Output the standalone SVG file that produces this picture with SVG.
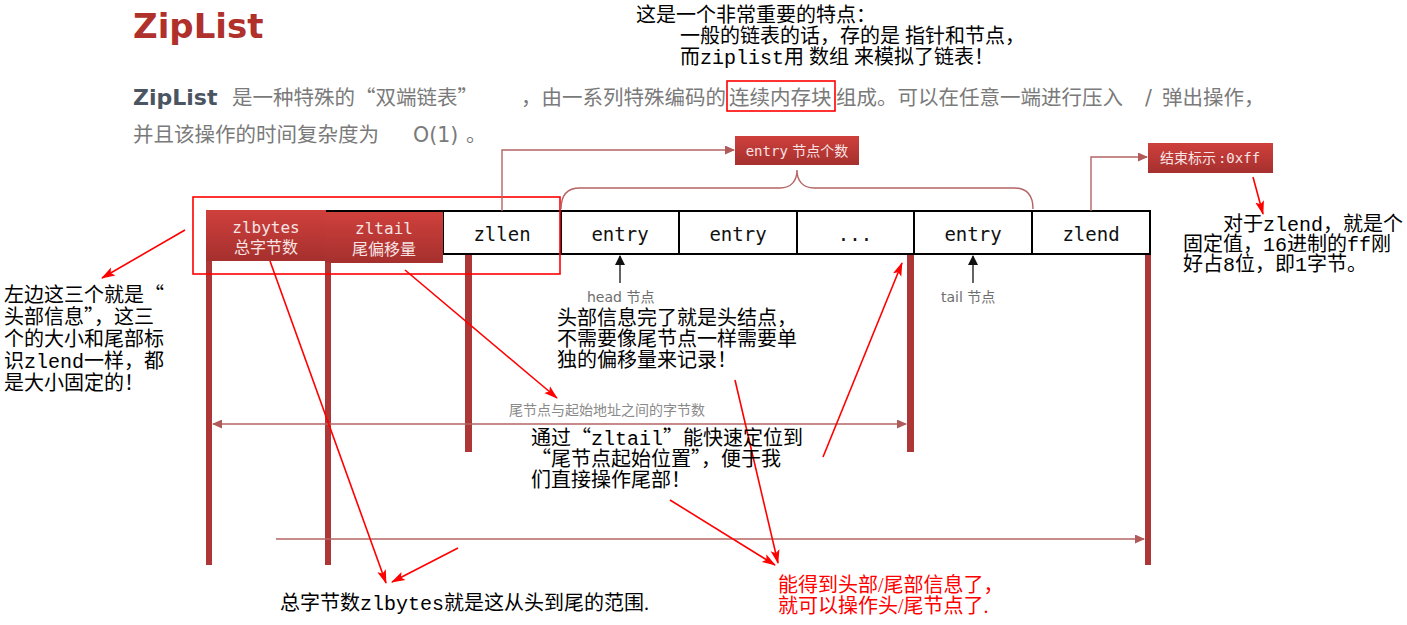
<svg xmlns="http://www.w3.org/2000/svg" width="1407" height="625" viewBox="0 0 1407 625">
<style>
.sans{font-family:"DejaVu Sans","Noto Sans CJK SC",sans-serif}
.note{font-family:"Liberation Serif","Noto Sans CJK SC",serif;font-size:20px;fill:#000}
.cj{font-family:"Noto Sans CJK SC",sans-serif}
.lm{font-family:"Liberation Mono","Noto Sans CJK SC",monospace}
.gray{fill:#7a7a7a;font-size:20.5px}
.mono{font-family:"DejaVu Sans Mono","Noto Sans CJK SC",monospace}
.cell{fill:#fff;stroke:#000;stroke-width:2}
.ctext{font-size:19px;fill:#111;text-anchor:middle}
.rbox{fill:url(#rg)}
.rtext{fill:#f6e4e4;text-anchor:middle}
.bar{fill:#ad3636}
.conn{fill:none;stroke:#b46464;stroke-width:1.4}
.red{fill:none;stroke:#f00;stroke-width:1.6}
.small{font-size:14px;fill:#6e6e6e}
</style>
<defs>
<linearGradient id="rg" x1="0" y1="0" x2="0" y2="1">
<stop offset="0" stop-color="#cf403c"/>
<stop offset="1" stop-color="#a5302e"/>
</linearGradient>
<marker id="ra" markerWidth="14" markerHeight="10" refX="13" refY="5" orient="auto" markerUnits="userSpaceOnUse">
<path d="M0,0.5 L14,5 L0,9.5 L3,5 z" fill="#f00"/>
</marker>
<marker id="ca" markerWidth="10" markerHeight="9" refX="9" refY="4.5" orient="auto-start-reverse" markerUnits="userSpaceOnUse">
<path d="M0,0 L10,4.5 L0,9 z" fill="#b05a5a"/>
</marker>
<marker id="ba" markerWidth="10" markerHeight="10" refX="9" refY="5" orient="auto" markerUnits="userSpaceOnUse">
<path d="M0,0 L10,5 L0,10 z" fill="#111"/>
</marker>
</defs>
<rect width="1407" height="625" fill="#fff"/>

<g id="title">
<text x="133" y="38" class="sans" font-size="34" font-weight="bold" fill="#b0302c">ZipList</text>
</g>

<g id="intro" class="sans">
<text x="133" y="105" font-size="22" font-weight="bold" fill="#4b5561">ZipList</text>
<text x="232" y="105" class="gray">是一种特殊的<tspan class="cj">“</tspan>双端链表<tspan class="cj">”</tspan></text>
<text x="521" y="105" class="gray">，由一系列特殊编码的</text>
<text x="729" y="105" class="gray">连续内存块</text>
<text x="836" y="105" class="gray">组成。可以在任意一端进行压入</text>
<text x="1145" y="105" class="gray">/</text>
<text x="1162" y="105" class="gray">弹出操作，</text>
<text x="133" y="142" class="gray">并且该操作的时间复杂度为</text>
<text x="413" y="142" class="gray">O(1)</text>
<text x="466" y="142" class="gray">。</text>
<rect x="727" y="81" width="108" height="30" class="red"/>
</g>

<g id="note-top" class="note">
<text x="636" y="22">这是一个非常重要的特点：</text>
<text x="680" y="43">一般的链表的话，存的是 指针和节点，</text>
<text x="680" y="64">而<tspan class="lm">ziplist</tspan>用 数组 来模拟了链表！</text>
</g>

<g id="bars">
<rect x="206" y="258" width="6" height="307" class="bar"/>
<rect x="325" y="260" width="6" height="305" class="bar"/>
<rect x="465" y="254" width="7" height="198" class="bar"/>
<rect x="907" y="254" width="7" height="198" class="bar"/>
<rect x="1145" y="254" width="6" height="311" class="bar"/>
</g>

<g id="row-line">
<line x1="325" y1="211" x2="443" y2="211" stroke="#000" stroke-width="2"/>
</g>

<g id="zllen"><rect x="443" y="211" width="118" height="43" class="cell"/><text x="502" y="241" class="mono ctext">zllen</text></g>
<g id="entry1"><rect x="561" y="211" width="118" height="43" class="cell"/><text x="620" y="241" class="mono ctext">entry</text></g>
<g id="entry2"><rect x="679" y="211" width="118" height="43" class="cell"/><text x="738" y="241" class="mono ctext">entry</text></g>
<g id="dots"><rect x="797" y="211" width="117" height="43" class="cell"/><text x="855" y="241" class="mono ctext">...</text></g>
<g id="entry3"><rect x="914" y="211" width="118" height="43" class="cell"/><text x="973" y="241" class="mono ctext">entry</text></g>
<g id="zlend"><rect x="1032" y="211" width="118" height="43" class="cell"/><text x="1091" y="241" class="mono ctext">zlend</text></g>

<g id="zlbytes">
<rect x="206" y="210" width="120" height="51" class="rbox"/>
<text x="266" y="233" class="mono rtext" font-size="16">zlbytes</text>
<text x="266" y="253" class="sans rtext" font-size="16">总字节数</text>
</g>
<g id="zltail">
<rect x="325" y="212" width="118" height="51" class="rbox"/>
<text x="384" y="234" class="mono rtext" font-size="16">zltail</text>
<text x="384" y="255" class="sans rtext" font-size="16">尾偏移量</text>
</g>

<g id="entry-count">
<rect x="735" y="136" width="124" height="29" class="rbox"/>
<text x="797" y="156" class="rtext" font-size="14"><tspan class="mono">entry</tspan><tspan class="sans"> 节点个数</tspan></text>
</g>
<g id="end-mark">
<rect x="1148" y="143" width="125" height="30" class="rbox"/>
<text x="1210" y="163" class="rtext" font-size="14"><tspan class="sans">结束标示</tspan><tspan class="mono" dx="2">:0xff</tspan></text>
</g>

<g id="head-label">
<text x="587" y="302" class="sans small">head 节点</text>
</g>
<g id="tail-label">
<text x="941" y="302" class="sans small">tail 节点</text>
</g>
<g id="offset-label">
<text x="509" y="415" class="sans small" style="fill:#8a8a8a">尾节点与起始地址之间的字节数</text>
</g>

<g id="header-box">
<rect x="193" y="197" width="367" height="77" class="red"/>
</g>

<g id="connectors">
<path d="M502,211 V150 H734" class="conn" marker-end="url(#ca)"/>
<path d="M1091,211 V157 H1147" class="conn" marker-end="url(#ca)"/>
<path d="M561,209 C561,196 567,188 580,188 L780,188 C791,188 797,181 797,170 C797,181 803,188 814,188 L1014,188 C1027,188 1033,196 1033,209" class="conn"/>
<line x1="213" y1="424" x2="906" y2="424" class="conn" marker-start="url(#ca)" marker-end="url(#ca)"/>
<line x1="276" y1="539" x2="1144" y2="539" class="conn" marker-end="url(#ca)"/>
<line x1="620" y1="283" x2="620" y2="256" stroke="#111" stroke-width="1.3" marker-end="url(#ba)"/>
<line x1="973" y1="283" x2="973" y2="256" stroke="#111" stroke-width="1.3" marker-end="url(#ba)"/>
<line x1="185" y1="230" x2="102" y2="278" class="red" marker-end="url(#ra)"/>
<line x1="270" y1="261" x2="386" y2="583" class="red" marker-end="url(#ra)"/>
<line x1="458" y1="548" x2="392" y2="582" class="red" marker-end="url(#ra)"/>
<line x1="405" y1="270" x2="557" y2="398" class="red" marker-end="url(#ra)"/>
<line x1="735" y1="380" x2="778" y2="563" class="red" marker-end="url(#ra)"/>
<line x1="670" y1="500" x2="775" y2="565" class="red" marker-end="url(#ra)"/>
<line x1="823" y1="457" x2="902" y2="263" class="red" marker-end="url(#ra)"/>
<line x1="1253" y1="177" x2="1263" y2="214" class="red" marker-end="url(#ra)"/>
</g>

<g id="note-left" class="note">
<text x="4" y="302">左边这三个就是<tspan class="cj">“</tspan></text>
<text x="4" y="324">头部信息<tspan class="cj">”</tspan>，这三</text>
<text x="4" y="346">个的大小和尾部标</text>
<text x="4" y="368">识<tspan class="lm">zlend</tspan>一样，都</text>
<text x="4" y="390">是大小固定的！</text>
</g>

<g id="note-head" class="note">
<text x="557" y="325">头部信息完了就是头结点，</text>
<text x="557" y="346">不需要像尾节点一样需要单</text>
<text x="557" y="367">独的偏移量来记录！</text>
</g>

<g id="note-tail" class="note">
<text x="531" y="445">通过<tspan class="cj">“</tspan><tspan class="lm">zltail</tspan><tspan class="cj">”</tspan>能快速定位到</text>
<text x="531" y="466"><tspan class="cj">“</tspan>尾节点起始位置<tspan class="cj">”</tspan>，便于我</text>
<text x="531" y="487">们直接操作尾部！</text>
</g>

<g id="note-zlend" class="note">
<text x="1223" y="231">对于<tspan class="lm">zlend</tspan>，就是个</text>
<text x="1183" y="251">固定值，<tspan class="lm">16</tspan>进制的<tspan class="lm">ff</tspan>刚</text>
<text x="1183" y="271">好占<tspan class="lm">8</tspan>位，即<tspan class="lm">1</tspan>字节。</text>
</g>

<g id="note-bytes" class="note">
<text x="280" y="610">总字节数<tspan class="lm">zlbytes</tspan>就是这从头到尾的范围.</text>
</g>

<g id="note-result" class="note" style="fill:#f00">
<text x="778" y="592">能得到头部/尾部信息了，</text>
<text x="778" y="613">就可以操作头/尾节点了.</text>
</g>
</svg>
